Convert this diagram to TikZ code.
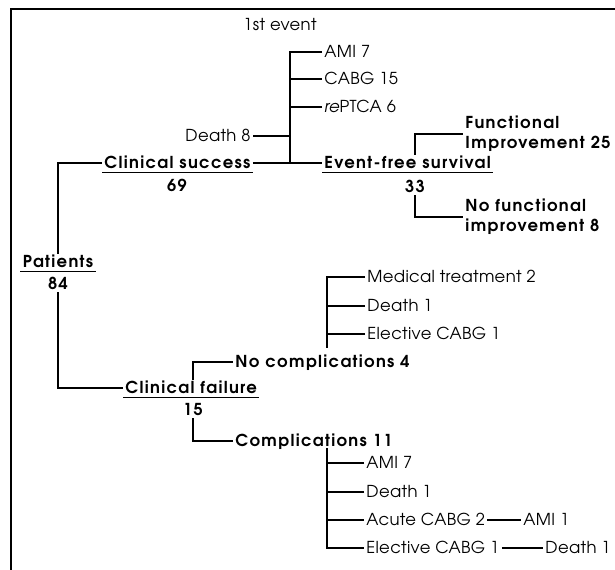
\documentclass[tikz,border=0pt]{standalone}
\usepackage{fontspec}
\setmainfont{TeX Gyre Adventor}[UprightFeatures={LetterSpace=2}, BoldFeatures={LetterSpace=8}]
\newcommand\ulnode[1]{\draw[conn] ([yshift=-3.5pt]#1.base west) -- ([yshift=-3.5pt]#1.base east);}
\begin{document}
\begin{tikzpicture}[x=1bp,y=-1bp,
  lbl/.style={inner sep=0pt, outer sep=2.5pt, text height=11.8pt, text depth=0pt, font=\fontsize{16.5}{19}\selectfont},
  blbl/.style={lbl, font=\fontsize{16.5}{19}\selectfont\bfseries},
  two/.style={inner sep=0pt, outer sep=2.5pt, align=left, font=\fontsize{16.5}{20}\selectfont\bfseries},
  conn/.style={line width=1.3pt},
  frame/.style={line width=2pt}]
\useasboundingbox (0,0) rectangle (615,570);
% frame
\coordinate (ftl) at (11,9);
\coordinate (ftr) at (615,9);
\coordinate (fbl) at (11,570);
\draw[frame] (ftr) -- (ftl) -- (fbl);
% top part
\node[lbl] (ev1) at (280,25) {1st event};
\node[lbl, anchor=west] (a7) at (322,52) {AMI 7};
\node[lbl, anchor=west] (c15) at (322,79) {CABG 15};
\node[lbl, anchor=west] (rp) at (322,107) {\textit{re}PTCA 6};
\node[lbl, anchor=east] (d8) at (253,136) {Death 8};
\node[blbl, anchor=west] (cs) at (102,163) {Clinical success};
\node[blbl] (n69) at (177,186) {69};
\node[blbl, anchor=west] (efs) at (322,163) {Event-free survival};
\node[blbl] (n33) at (415,187) {33};
\node[two, anchor=west] (fi) at (463,134) {Functional\\Improvement 25};
\node[two, anchor=west] (nf) at (463,217) {No functional\\improvement 8};
% left
\node[blbl] (pat) at (58,262) {Patients};
\node[blbl] (n84) at (58,284) {84};
\node[blbl, anchor=west] (cf) at (123,388) {Clinical failure};
\node[blbl] (n15) at (193,410) {15};
\node[blbl, anchor=west] (nc) at (233,362) {No complications 4};
\node[blbl, anchor=west] (cmp) at (233,441) {Complications 11};
% no complications branches
\node[lbl, anchor=west] (mt) at (365,277) {Medical treatment 2};
\node[lbl, anchor=west] (d1a) at (365,306) {Death 1};
\node[lbl, anchor=west] (ec1) at (365,334) {Elective CABG 1};
% complications branches
\node[lbl, anchor=west] (a7b) at (364,463) {AMI 7};
\node[lbl, anchor=west] (d1b) at (364,492) {Death 1};
\node[lbl, anchor=west] (acb) at (364,520) {Acute CABG 2};
\node[lbl, anchor=west] (ec2) at (364,548) {Elective CABG 1};
\node[lbl, anchor=west] (ami1) at (521,520) {AMI 1};
\node[lbl, anchor=west] (dth1) at (543,548) {Death 1};
% underlines
\ulnode{cs}
\ulnode{efs}
\ulnode{pat}
\ulnode{cf}
% connectors top
\coordinate (jt) at (290,163);
\draw[conn] (cs.east) -- (efs.west);
\draw[conn] (a7.west) -| (jt);
\draw[conn] (c15.west) -- (c15.west -| jt);
\draw[conn] (rp.west) -- (rp.west -| jt);
\draw[conn] (d8.east) -- (d8.east -| jt);
\draw[conn] (efs.north -| n33) |- (fi.west);
\draw[conn] (n33.south) |- (nf.west);
% connectors left
\draw[conn] (cs.west) -| (pat.north -| n84);
\draw[conn] (cf.west) -| (n84.south);
\draw[conn] (cf.north -| n15) |- (nc.west);
\draw[conn] (n15.south) |- (cmp.west);
% no complications
\coordinate (jm) at (327,348);
\draw[conn] (mt.west) -| (jm);
\draw[conn] (d1a.west) -- (d1a.west -| jm);
\draw[conn] (ec1.west) -- (ec1.west -| jm);
% complications
\coordinate (jl) at (327,448);
\draw[conn] (jl) |- (ec2.west);
\draw[conn] (a7b.west) -- (a7b.west -| jl);
\draw[conn] (d1b.west) -- (d1b.west -| jl);
\draw[conn] (acb.west) -- (acb.west -| jl);
\draw[conn] (acb.east) -- (ami1.west);
\draw[conn] (ec2.east) -- (dth1.west);
\end{tikzpicture}
\end{document}
